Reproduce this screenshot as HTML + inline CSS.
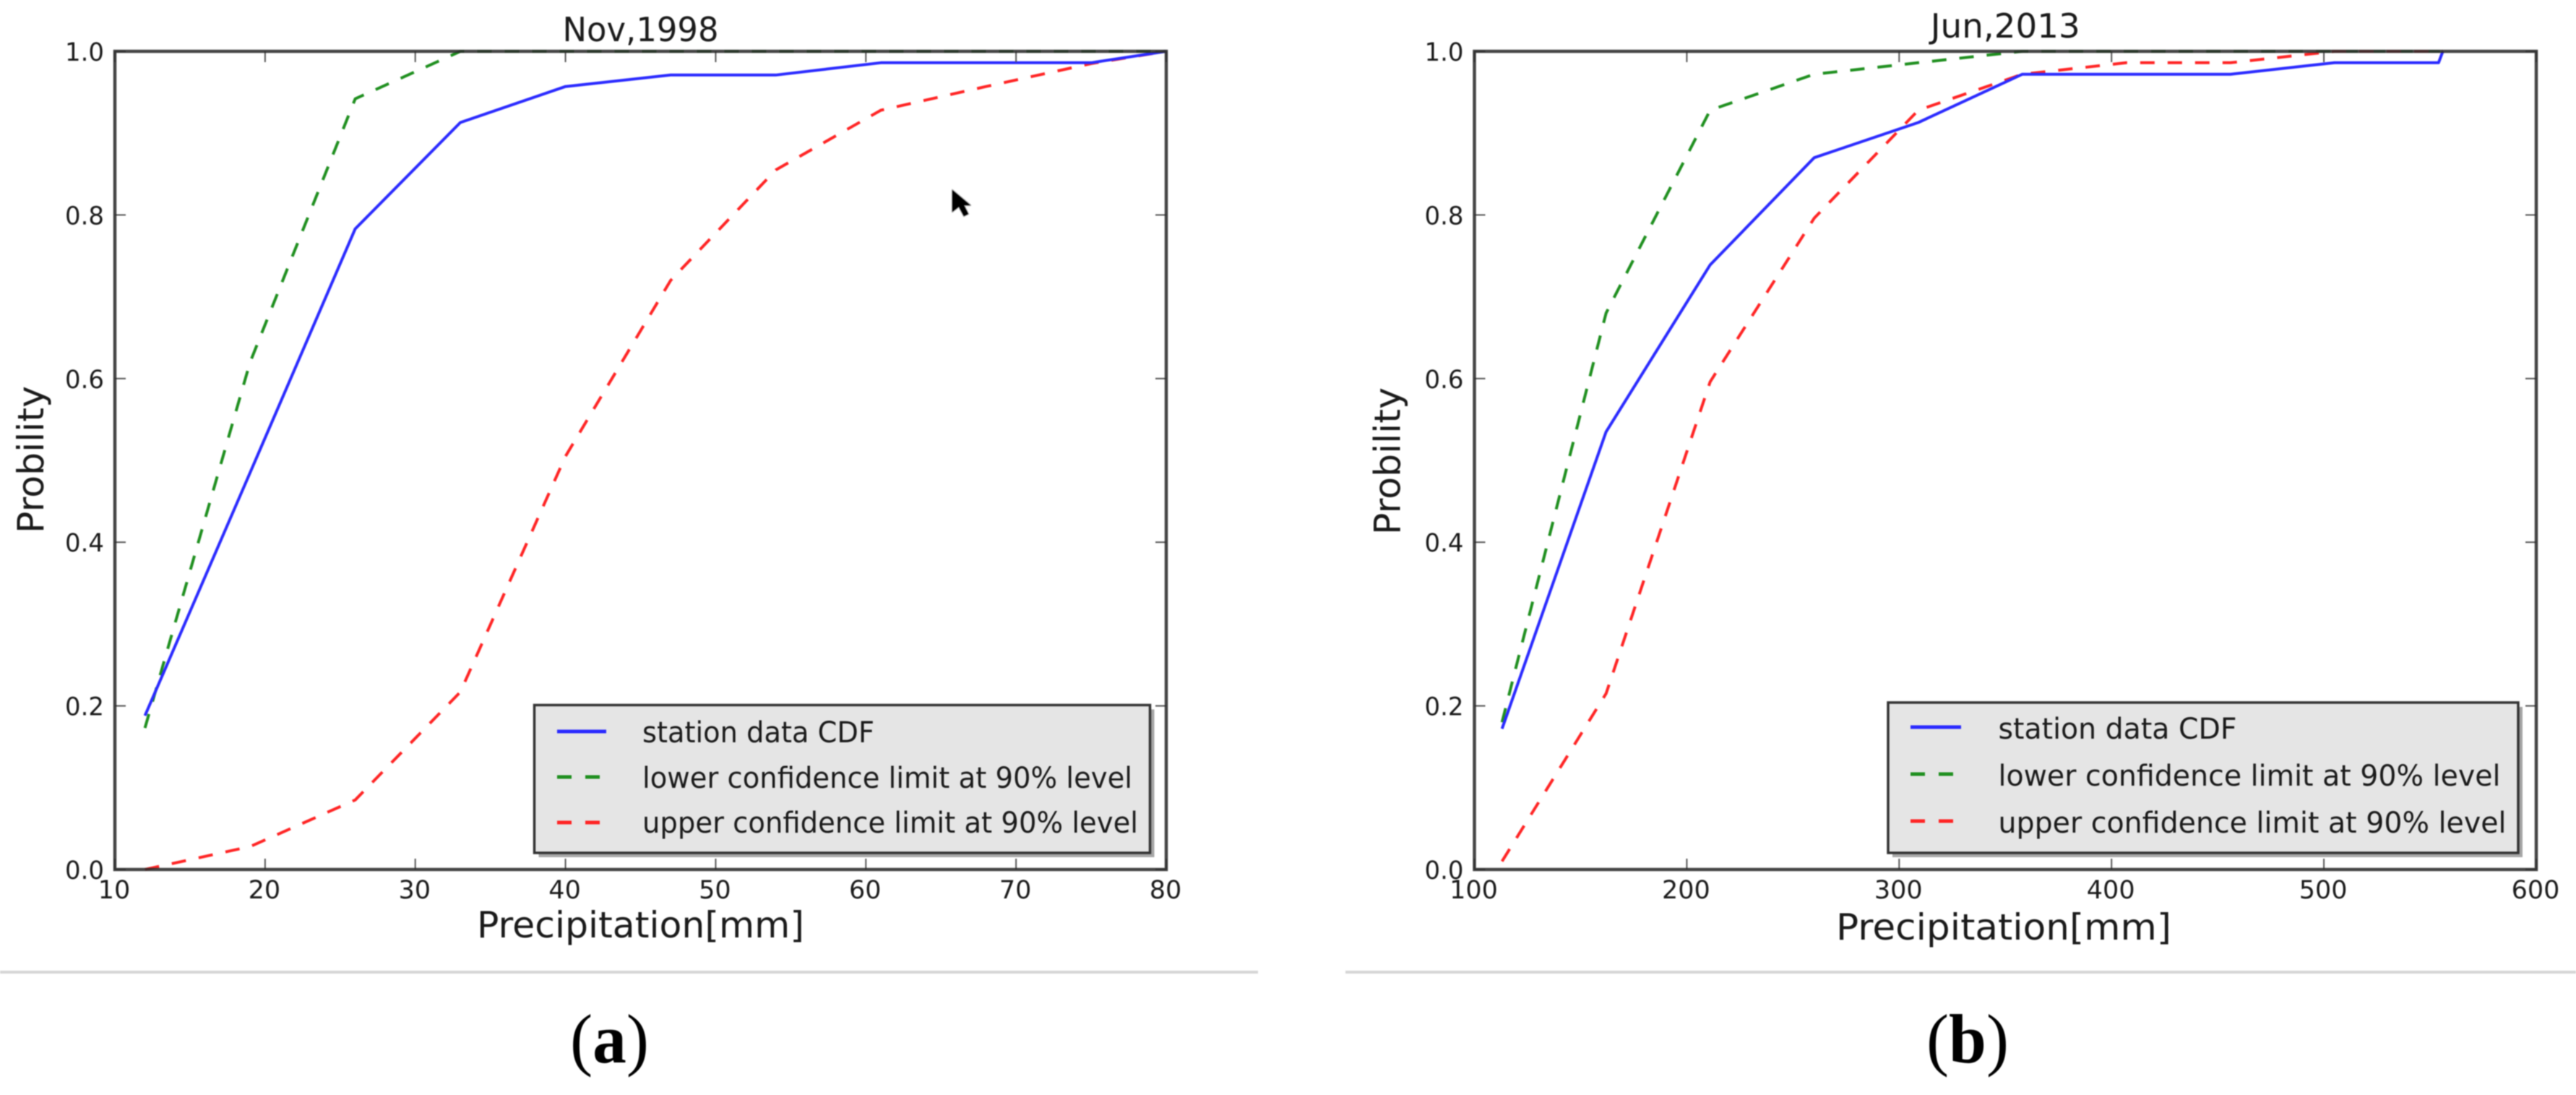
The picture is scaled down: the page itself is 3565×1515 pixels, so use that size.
<!DOCTYPE html>
<html lang="en">
<head>
<meta charset="utf-8">
<title>Precipitation CDF with confidence limits</title>
<style>
html,body{margin:0;padding:0;background:#fff;width:3565px;height:1515px;overflow:hidden}
svg{display:block;filter:blur(0.9px)}
text{font-family:"DejaVu Sans","Liberation Sans",sans-serif;fill:#1a1a1a}
.caption{font-family:"Liberation Serif",serif;fill:#000;font-size:96px}
</style>
</head>
<body>
<svg id="figure" xmlns="http://www.w3.org/2000/svg" width="3565" height="1515" viewBox="0 0 3565 1515">
  <rect x="0" y="0" width="3565" height="1515" fill="#fff"/>
  <g id="panel-a"></g>
  <g id="panel-b"></g>
  <rect x="0" y="1343" width="1741" height="4" fill="#d6d6d6"/>
  <rect x="1862" y="1343" width="1703" height="4" fill="#d6d6d6"/>
  <text class="caption" x="789" y="1470" textLength="109" lengthAdjust="spacingAndGlyphs">(<tspan font-weight="bold">a</tspan>)</text>
  <text class="caption" x="2666" y="1470" textLength="114" lengthAdjust="spacingAndGlyphs">(<tspan font-weight="bold">b</tspan>)</text>
  <polygon points="1318,263 1318,293 1327,286 1334,299 1340,296 1334,284 1343,284" fill="#000" stroke="#b5b5b5" stroke-width="2.5" stroke-linejoin="round" paint-order="stroke"/>
</svg>
<script>
// Shared tick labels
const yTickLabels = ['0.0', '0.2', '0.4', '0.6', '0.8', '1.0'];

// Panel (a): Nov,1998
const aXTickLabels = ['10', '20', '30', '40', '50', '60', '70', '80'];
const aPrecip = [12, 19, 26, 33, 40, 47, 54, 61, 68, 75, 80];
const aStation = [0.188, 0.485, 0.783, 0.913, 0.957, 0.971, 0.971, 0.986, 0.986, 0.986, 1.0];
const aLower = [0.173, 0.62, 0.942, 1.0, 1.0, 1.0, 1.0, 1.0, 1.0, 1.0, 1.0];
const aUpper = [0.0, 0.028, 0.085, 0.217, 0.505, 0.72, 0.855, 0.928, 0.957, 0.985, 1.0];

// Panel (b): Jun,2013
const bXTickLabels = ['100', '200', '300', '400', '500', '600'];
const bPrecip = [113, 162, 211, 260, 309, 358, 407, 456, 505, 554, 556];
const bStation = [0.172, 0.535, 0.739, 0.870, 0.913, 0.972, 0.972, 0.972, 0.986, 0.986, 1.0];
const bLower = [0.18, 0.68, 0.928, 0.972, 0.986, 1.0, 1.0, 1.0, 1.0, 1.0, 1.0];
const bUpper = [0.01, 0.215, 0.596, 0.796, 0.928, 0.972, 0.986, 0.986, 1.0, 1.0, 1.0];

const legendLabels = ['station data CDF', 'lower confidence limit at 90% level', 'upper confidence limit at 90% level'];

const NS = 'http://www.w3.org/2000/svg';
const BLUE = '#2a2aff', GREEN = '#1f8f1f', RED = '#ff2424';
const DASH = '20 18';

function mk(tag, parent, attrs, content) {
  const el = document.createElementNS(NS, tag);
  for (const k in attrs) el.setAttribute(k, attrs[k]);
  if (content !== undefined) el.textContent = content;
  parent.appendChild(el);
  return el;
}

function drawPanel(g, frame, xTickLabels, xs, station, lower, upper, text) {
  const xMin = parseFloat(xTickLabels[0]);
  const xMax = parseFloat(xTickLabels[xTickLabels.length - 1]);
  const xScale = v => frame.left + (v - xMin) / (xMax - xMin) * (frame.right - frame.left);
  const yScale = v => frame.bottom - v * (frame.bottom - frame.top);

  const series = [
    { ys: lower, color: GREEN, dash: DASH, width: 4, kind: 'lower' },
    { ys: upper, color: RED, dash: DASH, width: 4, kind: 'upper' },
    { ys: station, color: BLUE, dash: null, width: 4, kind: 'station' }
  ];
  for (const s of series) {
    const pts = xs.map((x, i) => xScale(x).toFixed(1) + ',' + yScale(s.ys[i]).toFixed(1)).join(' ');
    const line = mk('polyline', g, { points: pts, fill: 'none', stroke: s.color, 'stroke-width': s.width, 'stroke-linejoin': 'round' });
    if (s.dash) line.setAttribute('stroke-dasharray', s.dash);
    
    
  }

  // ticks
  for (const label of xTickLabels) {
    const px = xScale(parseFloat(label));
    const t1 = mk('line', g, { x1: px, x2: px, y1: frame.bottom, y2: frame.bottom - 15, stroke: '#555', 'stroke-width': 2 });
    
    
    const t2 = mk('line', g, { x1: px, x2: px, y1: frame.top, y2: frame.top + 15, stroke: '#555', 'stroke-width': 2 });
    
    
    const lab = mk('text', g, { x: px - 1, y: frame.bottom + 40, 'text-anchor': 'middle', 'font-size': 35 }, label);
    
    
  }
  for (const label of yTickLabels) {
    const py = yScale(parseFloat(label));
    const t1 = mk('line', g, { x1: frame.left, x2: frame.left + 15, y1: py, y2: py, stroke: '#555', 'stroke-width': 2 });
    
    
    const t2 = mk('line', g, { x1: frame.right, x2: frame.right - 15, y1: py, y2: py, stroke: '#555', 'stroke-width': 2 });
    
    
    const lab = mk('text', g, { x: frame.left - 15, y: py + 13, 'text-anchor': 'end', 'font-size': 35, textLength: 54, lengthAdjust: 'spacingAndGlyphs' }, label);
    
    
  }

  // spines
  const spine = mk('rect', g, { x: frame.left, y: frame.top, width: frame.right - frame.left, height: frame.bottom - frame.top, fill: 'none', stroke: '#2b2b2b', 'stroke-opacity': 0.88, 'stroke-width': 4.5 });
  
  

  // title and axis titles
  const title = mk('text', g, { x: (frame.left + frame.right) / 2, y: text.titleY, 'text-anchor': 'middle', 'font-size': 46, textLength: text.titleLen, lengthAdjust: 'spacingAndGlyphs' }, text.title);
  
  
  const xt = mk('text', g, { x: text.xLabelX, y: text.xLabelY, 'font-size': 50, textLength: text.xLabelLen, lengthAdjust: 'spacingAndGlyphs' }, 'Precipitation[mm]');
  
  
  const yt = mk('text', g, { transform: 'translate(' + text.yLabelX + ',' + text.yLabelBottom + ') rotate(-90)', 'font-size': 50, textLength: 204, lengthAdjust: 'spacingAndGlyphs' }, 'Probility');
  
  

  // legend
  const L = text.legend;
  const legend = mk('g', g, {});
  
  
  const shadow = mk('rect', legend, { x: L.x + 6, y: L.y + 6, width: L.w, height: L.h, fill: '#8a8a8a', 'fill-opacity': 0.75 });
  
  
  const box = mk('rect', legend, { x: L.x, y: L.y, width: L.w, height: L.h, fill: '#e5e5e5', stroke: '#333', 'stroke-width': 3.5 });
  
  
  const colors = [BLUE, GREEN, RED];
  legendLabels.forEach((label, i) => {
    const h = mk('line', legend, { x1: L.lineX1, x2: L.lineX2, y1: L.lineY[i], y2: L.lineY[i], stroke: colors[i], 'stroke-width': 5 });
    if (i > 0) h.setAttribute('stroke-dasharray', '20 19');
    
    
    const t = mk('text', legend, { x: L.textX, y: L.textY[i], 'font-size': 40, textLength: L.textLen[i], lengthAdjust: 'spacingAndGlyphs' }, label);
    
    
  });
}

drawPanel(document.getElementById('panel-a'),
  { left: 159, right: 1614, top: 71, bottom: 1203 },
  aXTickLabels, aPrecip, aStation, aLower, aUpper,
  { title: 'Nov,1998', titleY: 57, titleLen: 216,
    xLabelX: 660, xLabelY: 1297, xLabelLen: 453,
    yLabelX: 60, yLabelBottom: 738,
    legend: { x: 739.5, y: 975.5, w: 852, h: 204.5, lineX1: 771, lineX2: 839,
      lineY: [1012, 1075, 1138], textX: 889, textY: [1027, 1090, 1152], textLen: [321, 678, 686] } });

drawPanel(document.getElementById('panel-b'),
  { left: 2040.5, right: 3510, top: 71, bottom: 1203 },
  bXTickLabels, bPrecip, bStation, bLower, bUpper,
  { title: 'Jun,2013', titleY: 52, titleLen: 207,
    xLabelX: 2541, xLabelY: 1300, xLabelLen: 464,
    yLabelX: 1937.5, yLabelBottom: 740,
    legend: { x: 2613, y: 972, w: 872, h: 208, lineX1: 2644, lineX2: 2714,
      lineY: [1006, 1071, 1136], textX: 2765.5, textY: [1022, 1087, 1152], textLen: [330, 695, 703] } });
</script>
</body>
</html>
